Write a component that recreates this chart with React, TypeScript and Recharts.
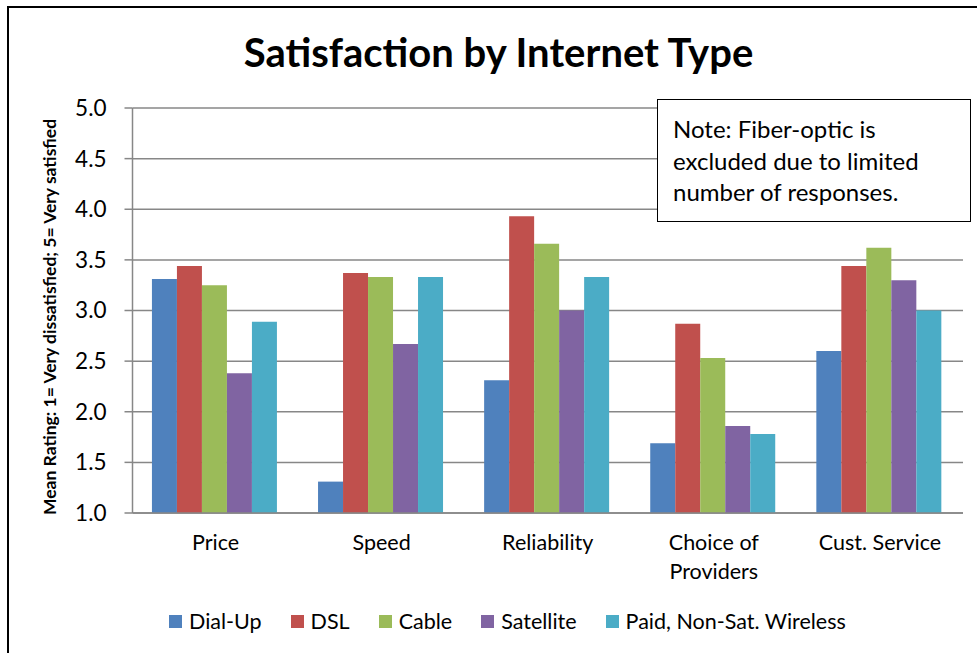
import React from "react";
import { BarChart, Bar, XAxis, YAxis, CartesianGrid, Legend, Text } from "recharts";

const categories = ["Price", "Speed", "Reliability", "Choice of Providers", "Cust. Service"];
const dialUp = [3.31, 1.31, 2.31, 1.69, 2.6];
const dsl = [3.44, 3.37, 3.93, 2.87, 3.44];
const cable = [3.25, 3.33, 3.66, 2.53, 3.62];
const satellite = [2.38, 2.67, 3.0, 1.86, 3.3];
const wireless = [2.89, 3.33, 3.33, 1.78, 3.0];
const yTicks = [1, 1.5, 2, 2.5, 3, 3.5, 4, 4.5, 5];
const edgeTicks = [0, 1, 2, 3, 4, 5];

const seriesNames = ["Dial-Up", "DSL", "Cable", "Satellite", "Paid, Non-Sat. Wireless"];
const seriesKeys = ["dialUp", "dsl", "cable", "satellite", "wireless"];
const seriesColors = ["#4F81BD", "#C0504D", "#9BBB59", "#8064A2", "#4BACC6"];

const title = "Satisfaction by Internet Type";
const yLabel = "Mean Rating: 1= Very dissatisfied; 5= Very satisfied";
const noteLines = ["Note: Fiber-optic is", "excluded due to limited", "number of responses."];

const data = categories.map((c, i) => ({
  category: c,
  dialUp: dialUp[i],
  dsl: dsl[i],
  cable: cable[i],
  satellite: satellite[i],
  wireless: wireless[i],
}));

const FONT = "Lato, 'Noto Sans', sans-serif";
const GRID = "#878787";

const CatTick = (props: any) => {
  const { x, y, payload } = props;
  return (
    <Text
      x={x}
      y={y + 22}
      width={132}
      textAnchor="middle"
      verticalAnchor="start"
      lineHeight={29}
      style={{ fontFamily: FONT, fontSize: 21.5, fill: "#000" }}
    >
      {payload.value}
    </Text>
  );
};

const renderLegend = (props: any) => {
  const payload = [...(props.payload || [])].sort(
    (a: any, b: any) => seriesNames.indexOf(a.value) - seriesNames.indexOf(b.value)
  );
  return (
    <div style={{ display: "flex", alignItems: "center", fontFamily: FONT, fontSize: 21.5, color: "#000" }}>
      {payload.map((p: any, i: number) => (
        <div key={i} style={{ display: "flex", alignItems: "center", marginRight: 29 }}>
          <div style={{ width: 13, height: 13, background: p.color, marginRight: 7 }} />
          <span>{p.value}</span>
        </div>
      ))}
    </div>
  );
};

export default function App() {
  return (
    <div
      style={{
        position: "absolute",
        left: 0,
        top: 0,
        width: 977,
        height: 653,
        overflow: "hidden",
        background: "#fff",
      }}
    >
      <div
        style={{
          position: "absolute",
          left: 7,
          top: 6,
          width: 1100,
          height: 1000,
          border: "2px solid #000",
        }}
      />
      <div
        style={{
          position: "absolute",
          left: 0,
          top: 26,
          width: 977,
          textAlign: "center",
          fontFamily: FONT,
          fontWeight: "bold",
          fontSize: 40,
          lineHeight: "52px",
          color: "#000",
          paddingLeft: 20,
          boxSizing: "border-box",
        }}
      >
        {title}
      </div>
      <div style={{ position: "absolute", left: 0, top: 0 }}>
        <BarChart
          width={977}
          height={653}
          data={data}
          margin={{ top: 108, right: 14, left: 0, bottom: 80 }}
          barCategoryGap="11.7%"
          barGap={0}
        >
          <CartesianGrid
            vertical={false}
            stroke={GRID}
            strokeWidth={1.5}
            yAxisId="y"
            xAxisId="cat"
          />
          <XAxis
            xAxisId="edges"
            type="number"
            domain={[0, 5]}
            ticks={edgeTicks}
            tick={false}
            tickLine={{ stroke: GRID, strokeWidth: 1.5 }}
            tickSize={8}
            axisLine={false}
            height={0}
          />
          <XAxis
            xAxisId="cat"
            dataKey="category"
            tick={<CatTick />}
            tickLine={false}
            tickSize={0}
            tickMargin={0}
            axisLine={{ stroke: GRID, strokeWidth: 1.5 }}
            height={60}
            interval={0}
          />
          <YAxis
            yAxisId="y"
            width={132.5}
            domain={[1, 5]}
            ticks={yTicks}
            tickFormatter={(v: number) => v.toFixed(1)}
            tick={{ fontFamily: FONT, fontSize: 22.5, fill: "#000" }}
            tickLine={{ stroke: GRID, strokeWidth: 1.5 }}
            tickSize={8}
            tickMargin={18}
            axisLine={{ stroke: GRID, strokeWidth: 1.5 }}
            label={{
              content: () => (
                <text
                  x={49}
                  y={317}
                  transform="rotate(-90, 49, 317)"
                  textAnchor="middle"
                  dominantBaseline="central"
                  style={{ fontFamily: FONT, fontSize: 17.5, fontWeight: "bold", fill: "#000" }}
                >
                  {yLabel}
                </text>
              ),
            }}
          />
          {seriesKeys.map((k, i) => (
            <Bar
              key={k}
              dataKey={k}
              name={seriesNames[i]}
              fill={seriesColors[i]}
              xAxisId="cat"
              yAxisId="y"
              isAnimationActive={false}
            />
          ))}
          <Legend
            verticalAlign="middle"
            align="center"
            layout="horizontal"
            wrapperStyle={{ top: 608, left: 169, width: 800 }}
            content={renderLegend}
          />
        </BarChart>
      </div>
      <div
        style={{
          position: "absolute",
          left: 657,
          top: 99,
          width: 314,
          height: 123,
          border: "1.5px solid #000",
          background: "#fff",
          boxSizing: "border-box",
          padding: "13px 0 0 15px",
          fontFamily: FONT,
          fontSize: 24,
          lineHeight: "31.7px",
          color: "#000",
        }}
      >
        {noteLines.map((l, i) => (
          <div key={i}>{l}</div>
        ))}
      </div>
    </div>
  );
}
